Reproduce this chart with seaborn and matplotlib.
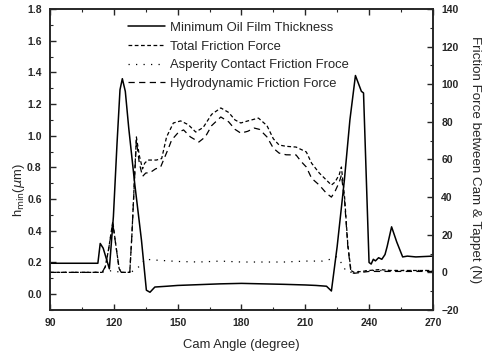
import matplotlib
matplotlib.use("Agg")
import matplotlib.pyplot as plt
from matplotlib.ticker import MultipleLocator
import seaborn as sns
import pandas as pd

# Minimum oil film thickness (um) against cam angle (deg)
hmin_angle = [90, 112.5, 113.6, 115, 117.9, 119.8, 121.5, 122.9, 124.0, 125.4, 127, 129.8,
              133, 135.3, 137, 139.3, 145, 150, 160, 170, 180, 190, 200, 210, 215, 220,
              222.3, 225, 228.4, 231, 233.6, 235, 236.4, 237.4, 240, 241, 242, 243, 244.5,
              246, 247.5, 248.5, 250.6, 253, 255.8, 258, 262, 270]
hmin_value = [0.195, 0.195, 0.32, 0.29, 0.16, 0.49, 0.95, 1.29, 1.36, 1.28, 1.05, 0.70,
              0.34, 0.025, 0.012, 0.045, 0.05, 0.055, 0.06, 0.065, 0.068, 0.065, 0.062, 0.058, 0.055, 0.05,
              0.02, 0.3, 0.72, 1.1, 1.38, 1.33, 1.28, 1.27, 0.2, 0.19, 0.22, 0.21, 0.23,
              0.22, 0.25, 0.3, 0.425, 0.33, 0.235, 0.24, 0.235, 0.24]

# Total friction force (N)
total_angle = [90, 114.5, 116, 117.5, 119.5, 121, 122.5, 123.5, 127.5, 128.5, 130.6, 132,
               133.5, 134.5, 136, 140, 142.5, 144.8, 148, 151.4, 155, 158.5, 162, 166, 170.3,
               174, 177, 179.7, 183, 188, 192, 195, 197.7, 201, 205.7, 210.5, 213, 216.6,
               220, 222.3, 224, 226, 227, 228.5, 230, 231.5, 233, 240, 245, 250, 260, 270]
total_value = [0, 0, 3, 12, 27, 14, 2, 0, 0, 20, 72, 62,
               55, 58, 59.7, 59.7, 60.5, 72, 79.4, 80.5, 78.5, 74.6, 77, 84, 87.4,
               85, 81, 79.4, 80.5, 82, 78, 71, 67.7, 67, 66.6, 64, 58, 52.8,
               49, 46.4, 48, 52, 56, 40, 15, 1, 0, 1, 1.5, 1, 1, 1]

# Asperity contact friction force (N)
asp_angle = [90, 114, 119.5, 123, 128, 130.6, 133, 134.5, 140, 150, 160, 170, 180, 190,
             200, 210, 218, 222, 224.6, 227, 229, 231, 240, 250, 270]
asp_value = [0, 0, 1, 0, 0, 2, 4, 7, 6.5, 5.8, 5.5, 6, 5.5, 5.5,
             5.5, 6, 6, 7, 8.3, 5, 1, 0, 1, 1, 1]

# Hydrodynamic friction force (N)
hydro_angle = [90, 114.5, 116, 117.5, 119.5, 121, 122.5, 123.5, 127.5, 128.5, 130.6, 132,
               133.5, 135, 137, 139.6, 142, 145.7, 147.2, 150.5, 152.8, 156, 160, 163, 166,
               170.3, 174, 177, 179.7, 183, 186, 188.5, 192, 195, 197.7, 201, 205.7, 208,
               210.5, 213, 216.6, 220, 222.3, 224, 226, 227, 228.5, 230, 231.5, 233, 240, 270]
hydro_value = [0, 0, 3, 12, 26, 14, 2, 0, 0, 20, 70, 58,
               51, 52.8, 53, 55, 56, 66, 70.4, 74.6, 75.7, 72, 69.3, 72, 78,
               82.6, 80, 76, 74, 75, 76.7, 76, 72, 66, 63.4, 62.5, 62.4, 59,
               56, 50, 46.4, 42, 40, 43, 48, 51.7, 38, 14, 0, -0.5, 0.5, 0.5]

sns.set_style("ticks")
plt.rcParams["font.family"] = ["Liberation Sans", "DejaVu Sans"]

fig = plt.figure(figsize=(4.88, 3.59), dpi=100)
ax = fig.add_axes([0.1025, 0.1365, 0.7845, 0.8385])
ax2 = ax.twinx()

df_h = pd.DataFrame({"angle": hmin_angle, "value": hmin_value})
df_t = pd.DataFrame({"angle": total_angle, "value": total_value})
df_a = pd.DataFrame({"angle": asp_angle, "value": asp_value})
df_y = pd.DataFrame({"angle": hydro_angle, "value": hydro_value})

sns.lineplot(data=df_h, x="angle", y="value", ax=ax, color="black", lw=1.1,
             label="Minimum Oil Film Thickness", legend=False)
sns.lineplot(data=df_t, x="angle", y="value", ax=ax2, color="black", lw=0.9,
             linestyle=(0, (3, 2)), label="Total Friction Force", legend=False)
sns.lineplot(data=df_a, x="angle", y="value", ax=ax2, color="black", lw=0.9,
             linestyle=(0, (1, 5)), label="Asperity Contact Friction Froce", legend=False)
sns.lineplot(data=df_y, x="angle", y="value", ax=ax2, color="black", lw=0.9,
             linestyle=(0, (5, 3.5)), label="Hydrodynamic Friction Force", legend=False)

ax.set_xlim(90, 270)
ax.set_ylim(-0.1, 1.8)
ax2.set_ylim(-20, 140)

ax.xaxis.set_major_locator(MultipleLocator(30))
ax.xaxis.set_minor_locator(MultipleLocator(15))
ax.yaxis.set_major_locator(MultipleLocator(0.2))
ax.yaxis.set_minor_locator(MultipleLocator(0.1))
ax2.yaxis.set_major_locator(MultipleLocator(20))
ax2.yaxis.set_minor_locator(MultipleLocator(10))
ax.yaxis.set_major_formatter(matplotlib.ticker.FormatStrFormatter("%.1f"))

ax.tick_params(axis="x", which="both", direction="in", top=True, bottom=True,
               labelsize=7.5, pad=6)
ax.tick_params(axis="y", which="both", direction="in", left=True, right=False,
               labelsize=7.5, pad=6)
ax2.tick_params(axis="y", which="both", direction="in", labelsize=7.5, pad=6)
for a in (ax, ax2):
    a.tick_params(which="major", length=4, width=1)
    a.tick_params(which="minor", length=2.5, width=0.8)
    for lab in a.get_xticklabels() + a.get_yticklabels():
        lab.set_fontweight("bold")
    for s in a.spines.values():
        s.set_linewidth(1.2)
        s.set_visible(True)

ax.set_xlabel("Cam Angle (degree)", fontsize=9.4, labelpad=8)
ax.set_ylabel(r"h$_{\rm min}$($\mu$m)", fontsize=9.4)
ax.yaxis.set_label_coords(-0.06, 0.4)
ax2.set_ylabel("Friction Force between Cam & Tappet (N)", fontsize=9.6,
               rotation=270, labelpad=14)
ax2.yaxis.set_label_coords(1.125, 0.5)

h1, l1 = ax.get_legend_handles_labels()
h2, l2 = ax2.get_legend_handles_labels()
ax2.legend(h1 + h2, l1 + l2, loc="upper left", bbox_to_anchor=(0.19, 0.975),
           frameon=False, fontsize=9.4, handlelength=2.8, handletextpad=0.4,
           labelspacing=0.5, borderaxespad=0)

fig.savefig("out.png", dpi=100)
